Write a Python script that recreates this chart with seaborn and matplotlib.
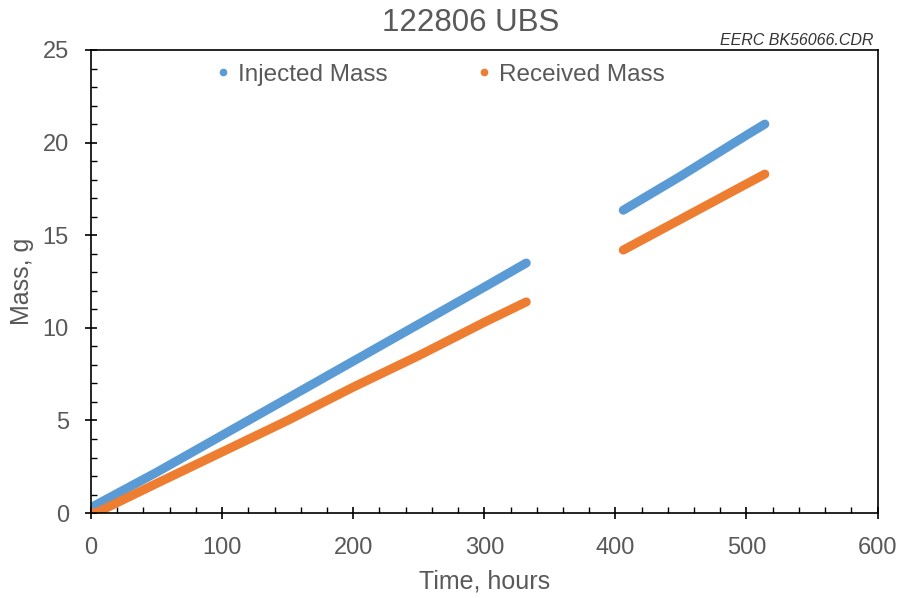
import numpy as np
import pandas as pd
import matplotlib
matplotlib.use("Agg")
import matplotlib.pyplot as plt
from matplotlib.lines import Line2D
from matplotlib.ticker import MultipleLocator
import seaborn as sns

# values
inj_t1 = [0, 50, 100, 150, 200, 250, 300, 332]
inj_m1 = [0.3, 2.2, 4.2, 6.2, 8.2, 10.2, 12.2, 13.5]
inj_t2 = [406, 450, 500, 514]
inj_m2 = [16.35, 18.2, 20.4, 21.0]
rec_t1 = [0, 5, 50, 100, 150, 200, 250, 300, 332]
rec_m1 = [0.0, 0.05, 1.6, 3.3, 5.0, 6.8, 8.5, 10.3, 11.4]
rec_t2 = [406, 450, 500, 514]
rec_m2 = [14.2, 15.87, 17.77, 18.3]

series_names = ["Injected Mass", "Received Mass"]
colors = ["#5B9BD5", "#ED7D31"]

rows = []
for name, seg, ts, ms in [("Injected Mass", "a", inj_t1, inj_m1),
                          ("Injected Mass", "b", inj_t2, inj_m2),
                          ("Received Mass", "a", rec_t1, rec_m1),
                          ("Received Mass", "b", rec_t2, rec_m2)]:
    for t, m in zip(ts, ms):
        rows.append({"time": t, "mass": m, "series": name, "seg": seg})
df = pd.DataFrame(rows)

sns.set_style("white")
plt.rcParams["font.family"] = ["Liberation Sans", "DejaVu Sans"]
grey = "#595959"

fig = plt.figure(figsize=(9.05, 5.98), dpi=100)
ax = fig.add_axes([0.1006, 0.142, 0.8691, 0.7744])

sns.lineplot(data=df, x="time", y="mass", hue="series", units="seg",
             estimator=None, palette=colors, hue_order=series_names,
             linewidth=6.5, solid_capstyle="round", legend=False, ax=ax, sort=False)

ax.set_xlim(0, 600)
ax.set_ylim(0, 25)
ax.xaxis.set_major_locator(MultipleLocator(100))
ax.xaxis.set_minor_locator(MultipleLocator(20))
ax.yaxis.set_major_locator(MultipleLocator(5))
ax.yaxis.set_minor_locator(MultipleLocator(1))
ax.tick_params(which="major", direction="inout", length=8, width=1.2,
               colors="black", labelcolor=grey, labelsize=17)
ax.tick_params(axis="x", which="major", pad=13)
ax.tick_params(axis="y", which="major", pad=12)
ax.tick_params(which="minor", direction="in", length=4, width=1.0, colors="black")
ax.tick_params(axis="x", which="both", bottom=True)
ax.tick_params(axis="y", which="both", left=True)
for sp in ax.spines.values():
    sp.set_color("black")
    sp.set_linewidth(1.2)

ax.set_xlabel("Time, hours", fontsize=18, color=grey, labelpad=8)
ax.set_ylabel("Mass, g", fontsize=18, color=grey, labelpad=6)
fig.text(0.52, 0.962, "122806 UBS", ha="center", va="center",
         fontsize=22.5, color=grey)
fig.text(0.965, 0.933, "EERC BK56066.CDR", ha="right", va="center",
         fontsize=11.5, style="italic", color="#333333")

handles = [Line2D([], [], marker="o", linestyle="", markersize=4.5,
                  color=c, label=n) for n, c in zip(series_names, colors)]
ax.legend(handles=handles, loc="center", bbox_to_anchor=(0.444, 0.947),
          ncol=2, frameon=False, fontsize=17.5, labelcolor=grey,
          handletextpad=0.3, columnspacing=3.7, handlelength=0.6,
          borderpad=0, borderaxespad=0)

fig.savefig("out.png", dpi=100)
